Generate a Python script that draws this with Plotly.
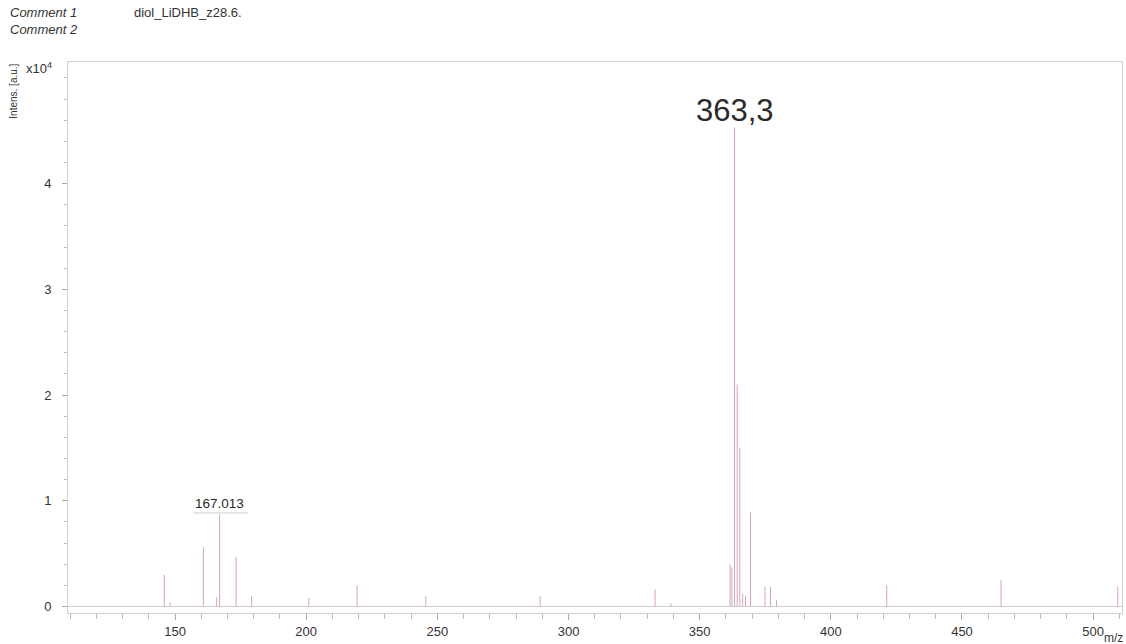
import plotly.graph_objects as go

# ---- data ----
mz = [145.9, 148.1, 160.8, 165.9, 167.0, 173.3, 179.2, 201.0, 219.4, 245.6,
      289.2, 333.0, 339.0, 361.6, 362.3, 363.3, 364.3, 365.3, 366.4, 367.5,
      369.4, 374.9, 377.0, 379.3, 421.3, 464.9, 509.4]
intensity = [3000, 400, 5600, 900, 8700, 4700, 1000, 800, 2000, 1000,
             1000, 1600, 300, 4000, 3700, 45300, 21000, 15000, 1200, 1000,
             8900, 1900, 1900, 600, 2000, 2500, 1900]

x_ticks = [150, 200, 250, 300, 350, 400, 450, 500]
y_tick_vals = [0, 10000, 20000, 30000, 40000]
y_tick_text = ["0", "1", "2", "3", "4"]

labels = [(167.0, 8700, "167.013", 13.5), (363.3, 45300, "363,3", 31)]

FONT = "Liberation Sans, Arial, sans-serif"

xs, ys = [], []
for m, i in zip(mz, intensity):
    xs += [m, m, None]
    ys += [0, i, None]

fig = go.Figure()
fig.add_trace(go.Scatter(x=xs, y=ys, mode="lines",
                         line=dict(color="#d4a6ae", width=1),
                         hoverinfo="skip", showlegend=False, cliponaxis=False))

for (m, i, t, s) in labels:
    fig.add_annotation(x=m, y=i, text=t, showarrow=False, xanchor="center",
                       yanchor="bottom", yshift=2 if s < 20 else -2,
                       font=dict(family=FONT, size=s, color="#2a2a2a"))

# underline of the small label
fig.add_shape(type="line", x0=labels[0][0] - 10, x1=labels[0][0] + 11,
              y0=labels[0][1] + 150, y1=labels[0][1] + 150,
              line=dict(color="#cccccc", width=1))

fig.update_layout(
    width=1126, height=644,
    margin=dict(l=68, r=4, t=62, b=31),
    paper_bgcolor="white", plot_bgcolor="white",
    font=dict(family=FONT, size=13, color="#333333"),
    xaxis=dict(range=[109.2, 511.0], tickvals=x_ticks, ticks="outside",
               ticklen=6, tickcolor="#aaaaaa", showline=True,
               linecolor="#d0d0d0", mirror=True, showgrid=False,
               zeroline=False, minor=dict(dtick=10, ticks="outside",
                                          ticklen=5, tickcolor="#bbbbbb"),
               tickfont=dict(size=13, color="#333333")),
    yaxis=dict(range=[-610, 51500], tickvals=y_tick_vals,
               ticktext=y_tick_text, ticks="outside", ticklen=5,
               tickcolor="#aaaaaa", showline=True, linecolor="#d0d0d0",
               mirror=True, showgrid=False, zeroline=True,
               zerolinecolor="#cfcfcf", zerolinewidth=1,
               ticklabelstandoff=8,
               minor=dict(dtick=2000, ticks="outside", ticklen=3,
                          tickcolor="#bbbbbb"),
               tickfont=dict(size=13, color="#333333")),
)

# header comments
fig.add_annotation(xref="paper", yref="paper", x=-0.0571, y=1.0, yshift=50,
                   text="<i>Comment 1</i>", showarrow=False, xanchor="left",
                   yanchor="middle", font=dict(family=FONT, size=13, color="#333"))
fig.add_annotation(xref="paper", yref="paper", x=-0.0571, y=1.0, yshift=33,
                   text="<i>Comment 2</i>", showarrow=False, xanchor="left",
                   yanchor="middle", font=dict(family=FONT, size=13, color="#333"))
fig.add_annotation(xref="paper", yref="paper", x=0.0605, y=1.0, yshift=50,
                   text="diol_LiDHB_z28.6.", showarrow=False, xanchor="left",
                   yanchor="middle", font=dict(family=FONT, size=13, color="#333"))
# y axis title and exponent
fig.add_annotation(xref="paper", yref="paper", x=-0.052, y=1.0,
                   text="Intens. [a.u.]", showarrow=False, textangle=-90,
                   xanchor="center", yanchor="top",
                   font=dict(family=FONT, size=10, color="#333"))
fig.add_annotation(xref="paper", yref="paper", x=-0.042, y=1.0, yshift=-6,
                   text="x10<sup>4</sup>", showarrow=False, xanchor="left",
                   yanchor="middle", font=dict(family=FONT, size=13, color="#333"))
# m/z unit
fig.add_annotation(xref="paper", yref="paper", x=1.0, y=0.0, yshift=-25,
                   xshift=3, text="m/z", showarrow=False, xanchor="right",
                   yanchor="middle", font=dict(family=FONT, size=12, color="#333"))

fig.write_html("out.html", config={"displayModeBar": False},
               post_script="document.body.style.margin='0px';")
